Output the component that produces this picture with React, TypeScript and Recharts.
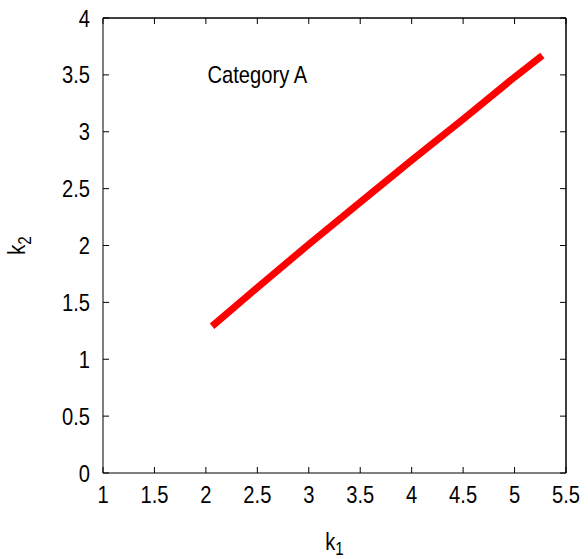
import React from "react";
import { LineChart, Line, XAxis, YAxis, ReferenceDot, ReferenceLine, CartesianGrid } from "recharts";

const k1Values = [2.06, 2.5, 3.0, 3.5, 4.0, 4.5, 5.0, 5.27];
const k2Values = [1.29, 1.63, 2.01, 2.38, 2.75, 3.11, 3.48, 3.67];
const xTicks = [1, 1.5, 2, 2.5, 3, 3.5, 4, 4.5, 5, 5.5];
const yTicks = [0, 0.5, 1, 1.5, 2, 2.5, 3, 3.5, 4];
const annotationText = "Category A";
const annotationPos = { k1: 2.5, k2: 3.5 };

const data = k1Values.map((k1, i) => ({ k1, k2: k2Values[i] }));

const FONT = "'Liberation Sans', Arial, sans-serif";
const SX = 0.84;
const TICK_LEN = 6;
const X_DOMAIN = [xTicks[0], xTicks[xTicks.length - 1]];
const Y_DOMAIN = [yTicks[0], yTicks[yTicks.length - 1]];
// mirrored tick length expressed in data units (approx. 6px)
const TOP_TICK_DY = 0.053;
const RIGHT_TICK_DX = 0.058;

const NarrowText = ({ x, y, anchor = "middle", size = 24, children, rotate = 0 }: any) => (
  <text
    transform={`translate(${x}, ${y}) rotate(${rotate}) scale(${SX}, 1)`}
    x={0}
    y={0}
    textAnchor={anchor}
    fontSize={size}
    fontFamily={FONT}
    fill="#000"
  >
    {children}
  </text>
);

const BottomTick = (props: any) => {
  const { x, y, payload } = props;
  return (
    <g>
      <line x1={x} y1={y} x2={x} y2={y - TICK_LEN} stroke="#000" strokeWidth={1} />
      <NarrowText x={x} y={y + 30}>{payload.value}</NarrowText>
    </g>
  );
};

const LeftTick = (props: any) => {
  const { x, y, payload } = props;
  return (
    <g>
      <line x1={x} y1={y} x2={x + TICK_LEN} y2={y} stroke="#000" strokeWidth={1} />
      <NarrowText x={x - 13} y={y + 8.5} anchor="end">{payload.value}</NarrowText>
    </g>
  );
};

const XLabel = (props: any) => {
  const { viewBox } = props;
  const cx = viewBox.x + viewBox.width / 2;
  return (
    <NarrowText x={cx} y={550}>
      k<tspan dy={5} fontSize={18}>1</tspan>
    </NarrowText>
  );
};

const YLabel = (props: any) => {
  const { viewBox } = props;
  const cy = viewBox.y + viewBox.height / 2;
  return (
    <NarrowText x={25} y={cy} rotate={-90}>
      k<tspan dy={6} fontSize={18}>2</tspan>
    </NarrowText>
  );
};

const AnnotationLabel = (props: any) => {
  const { viewBox } = props;
  const cx = viewBox.x + (viewBox.width || 0) / 2;
  const cy = viewBox.y + (viewBox.height || 0) / 2;
  return <NarrowText x={cx} y={cy + 8.5}>{annotationText}</NarrowText>;
};

export default function App() {
  return (
    <div style={{ position: "absolute", left: 0, top: 0, background: "#fff" }}>
      <LineChart
        width={588}
        height={559}
        data={data}
        margin={{ top: 18, right: 22, left: 0, bottom: 0 }}
      >
        <CartesianGrid
          stroke="#000"
          strokeWidth={1}
          horizontalCoordinatesGenerator={(p: any) => [p.offset.top]}
          verticalCoordinatesGenerator={(p: any) => [p.offset.left + p.offset.width]}
        />
        <XAxis
          type="number"
          dataKey="k1"
          domain={X_DOMAIN}
          ticks={xTicks}
          interval={0}
          tick={<BottomTick />}
          tickLine={false}
          tickSize={0}
          tickMargin={0}
          height={86}
          axisLine={{ stroke: "#000", strokeWidth: 1 }}
          label={<XLabel />}
        />
        <YAxis
          type="number"
          domain={Y_DOMAIN}
          ticks={yTicks}
          interval={0}
          tick={<LeftTick />}
          tickLine={false}
          tickSize={0}
          tickMargin={0}
          width={103}
          axisLine={{ stroke: "#000", strokeWidth: 1 }}
          label={<YLabel />}
        />
        <ReferenceLine y={Y_DOMAIN[1]} stroke="#000" strokeWidth={1} />
        <ReferenceLine x={X_DOMAIN[1]} stroke="#000" strokeWidth={1} />
        {xTicks.map((t) => (
          <ReferenceLine
            key={`tx${t}`}
            segment={[
              { x: t, y: Y_DOMAIN[1] },
              { x: t, y: Y_DOMAIN[1] - TOP_TICK_DY },
            ]}
            stroke="#000"
            strokeWidth={1}
          />
        ))}
        {yTicks.map((t) => (
          <ReferenceLine
            key={`ty${t}`}
            segment={[
              { x: X_DOMAIN[1], y: t },
              { x: X_DOMAIN[1] - RIGHT_TICK_DX, y: t },
            ]}
            stroke="#000"
            strokeWidth={1}
          />
        ))}
        <Line
          type="linear"
          dataKey="k2"
          stroke="#ff0000"
          strokeWidth={7}
          dot={false}
          activeDot={false}
          isAnimationActive={false}
        />
        <ReferenceDot
          x={annotationPos.k1}
          y={annotationPos.k2}
          r={0}
          fill="none"
          stroke="none"
          label={<AnnotationLabel />}
        />
      </LineChart>
    </div>
  );
}
